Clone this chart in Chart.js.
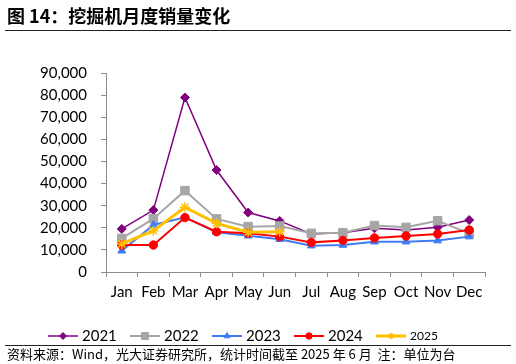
<!DOCTYPE html>
<html>
<head>
<meta charset="utf-8">
<script src="https://cdn.jsdelivr.net/npm/chart.js@4/dist/chart.umd.min.js"></script>
<style>
  html, body { margin: 0; padding: 0; background: #fff; }
  #wrap { position: relative; width: 516px; height: 364px; overflow: hidden; }
  #title { position: absolute; left: 7px; top: 2px; font: bold 18px "Noto Sans CJK SC", sans-serif; color: #000; }
  #topline { position: absolute; left: 5px; top: 30px; width: 506px; height: 0; border-top: 1.5px solid #222; }
  #botline { position: absolute; left: 5px; top: 345px; width: 506px; height: 0; border-top: 1px solid #222; }
  #source { position: absolute; left: 7px; top: 344px; font: 13px "Noto Sans CJK SC", sans-serif; color: #000; white-space: nowrap; }
  canvas { position: absolute; left: 0; top: 0; }
</style>
</head>
<body>
<div id="wrap">
  <canvas id="chart" width="516" height="364"></canvas>
  <div id="title">图 14：挖掘机月度销量变化</div>
  <div id="topline"></div>
  <div id="botline"></div>
  <div id="source">资料来源：Wind，光大证券研究所，统计时间截至 2025 年 6 月&nbsp; 注：单位为台</div>
</div>
<script>
const months = ['Jan', 'Feb', 'Mar', 'Apr', 'May', 'Jun', 'Jul', 'Aug', 'Sep', 'Oct', 'Nov', 'Dec'];

const sales2021 = [19500, 28000, 78900, 46100, 26900, 23100, 17200, 17800, 19800, 19000, 20200, 23500];
const sales2022 = [15200, 24100, 36800, 24000, 20500, 20800, 17500, 17800, 21000, 20200, 23200, 17500];
const sales2023 = [9600, 21300, 24700, 18000, 16400, 14800, 11900, 12200, 13700, 13700, 14200, 16000];
const sales2024 = [12200, 12200, 24600, 18200, 17500, 16000, 13400, 14300, 15400, 16300, 17200, 19000];
const sales2025 = [12700, 18700, 29300, 22000, 18000, 18200];

const yMax = 90000;
const yStep = 10000;

const axisColor = '#8c8c8c';
const tickFont = { family: 'Lato, "Liberation Sans", sans-serif', size: 15 };

function series(label, data, color, style, radius, width, order) {
  return {
    label: label,
    data: data,
    borderColor: color,
    backgroundColor: color,
    pointBackgroundColor: color,
    pointBorderColor: color,
    pointStyle: style,
    pointRadius: radius,
    pointBorderWidth: style === 'star' ? 1.5 : 1,
    borderWidth: width,
    tension: 0,
    order: order
  };
}

// legend drawn by hand so line + marker + text spacing matches
const legendPlugin = {
  id: 'lineLegend',
  afterDraw(chart) {
    const ctx = chart.ctx;
    const y = 336;
    let x = 48;
    chart.data.datasets.forEach((ds, i) => {
      ctx.save();
      ctx.strokeStyle = ds.borderColor;
      ctx.fillStyle = ds.borderColor;
      ctx.lineWidth = ds.borderWidth;
      ctx.beginPath();
      ctx.moveTo(x, y);
      ctx.lineTo(x + 30, y);
      ctx.stroke();
      ctx.lineWidth = ds.pointBorderWidth;
      let r = ds.pointRadius - 1;
      if (ds.pointStyle === 'star') r = 3;
      if (ds.pointStyle === 'rect') r = 5;
      Chart.helpers.drawPoint(ctx, {
        pointStyle: ds.pointStyle,
        radius: r,
        borderWidth: ds.pointBorderWidth,
        rotation: 0
      }, x + 15, y);
      ctx.fillStyle = '#000';
      ctx.textBaseline = 'middle';
      ctx.textAlign = 'left';
      const size = i === 4 ? 12 : 15;
      ctx.font = size + 'px Lato, "Liberation Sans", sans-serif';
      ctx.fillText(ds.label, x + 34, y + 0.5);
      ctx.restore();
      x += 82;
    });
  }
};

const config = {
  type: 'line',
  data: {
    labels: months,
    datasets: [
      series('2021', sales2021, '#800080', 'rectRot', 4.5, 1.5, 5),
      series('2022', sales2022, '#a6a6a6', 'rect', 6, 2, 4),
      series('2023', sales2023, '#3f7cf4', 'triangle', 4.5, 2, 3),
      series('2024', sales2024, '#ff0000', 'circle', 4.2, 2, 2),
      series('2025', sales2025, '#ffc000', 'star', 5, 3, 1)
    ]
  },
  options: {
    responsive: false,
    animation: false,
    layout: { padding: { top: 73, left: 10, right: 31, bottom: 52 } },
    plugins: {
      legend: { display: false },
      tooltip: { enabled: false }
    },
    scales: {
      x: {
        offset: true,
        afterFit: s => { s.height = 40; },
        border: { color: axisColor, width: 1 },
        grid: { display: true, offset: true, drawOnChartArea: false, tickLength: 5, color: axisColor },
        ticks: { color: '#000', font: tickFont, padding: 6, maxRotation: 0, autoSkip: false }
      },
      y: {
        min: 0,
        max: yMax,
        afterFit: s => { s.width = 96; },
        border: { color: axisColor, width: 1 },
        grid: { display: true, drawOnChartArea: false, tickLength: 5, color: axisColor },
        ticks: {
          stepSize: yStep,
          color: '#000',
          font: tickFont,
          padding: 14,
          callback: v => v.toLocaleString('en-US')
        }
      }
    }
  },
  plugins: [legendPlugin]
};

var chart = new Chart(document.getElementById('chart').getContext('2d'), config);
</script>
</body>
</html>
